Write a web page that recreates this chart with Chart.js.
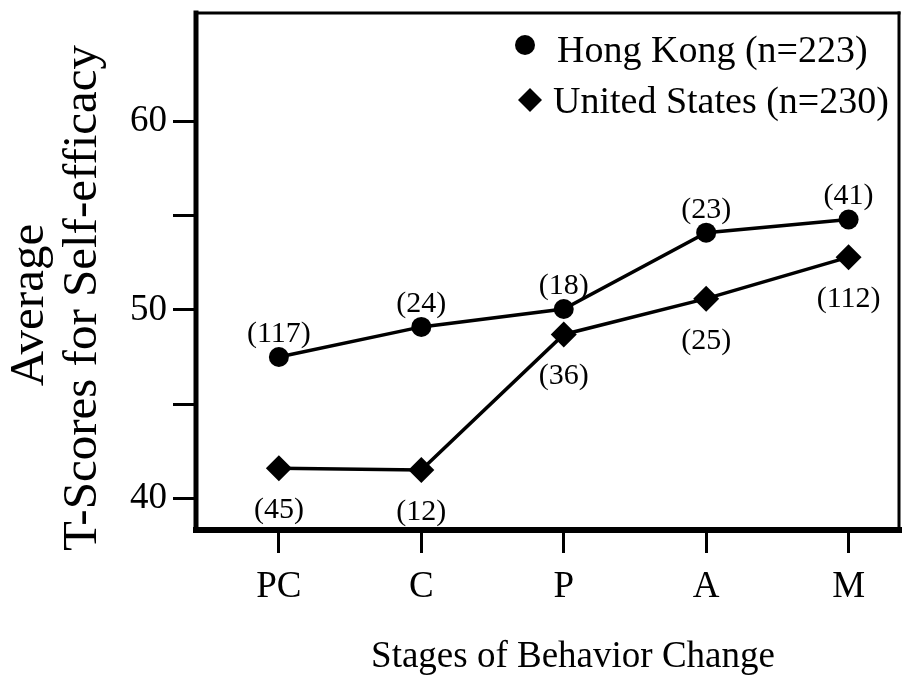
<!DOCTYPE html>
<html><head><meta charset="utf-8">
<script src="https://cdn.jsdelivr.net/npm/chart.js@4/dist/chart.umd.min.js"></script>
<style>html,body{margin:0;padding:0;background:#fff}#wrap{width:912px;height:683px}</style>
</head><body><div id="wrap"><canvas id="c" width="912" height="683"></canvas></div>
<script>
const stages = ['PC', 'C', 'P', 'A', 'M'];
const hongKong = [47.5, 49.1, 50.05, 54.1, 54.8];
const unitedStates = [41.6, 41.5, 48.7, 50.6, 52.8];
const hongKongN = ['(117)', '(24)', '(18)', '(23)', '(41)'];
const unitedStatesN = ['(45)', '(12)', '(36)', '(25)', '(112)'];
const yTickValues = [40, 45, 50, 55, 60];
const yTickLabels = ['40', '', '50', '', '60'];
const seriesNames = ['Hong Kong (n=223)', 'United States (n=230)'];
const xTitle = 'Stages of Behavior Change';
const yTitle = ['Average', 'T-Scores for Self-efficacy'];

const SERIF = '"Liberation Serif", "Times New Roman", serif';

const toPts = arr => arr.map((v, i) => ({ x: i, y: v }));

const framePlugin = {
  id: 'frame',
  afterDraw(chart) {
    const { ctx, chartArea: a } = chart;
    ctx.save();
    ctx.strokeStyle = '#000';
    ctx.lineCap = 'square';
    ctx.lineWidth = 5; ctx.beginPath(); ctx.moveTo(a.left, a.top); ctx.lineTo(a.left, a.bottom); ctx.stroke();
    ctx.lineWidth = 6; ctx.beginPath(); ctx.moveTo(a.left, a.bottom); ctx.lineTo(a.right, a.bottom); ctx.stroke();
    ctx.lineWidth = 3; ctx.beginPath(); ctx.moveTo(a.left, a.top); ctx.lineTo(a.right, a.top); ctx.stroke();
    ctx.lineWidth = 3; ctx.beginPath(); ctx.moveTo(a.right, a.top); ctx.lineTo(a.right, a.bottom); ctx.stroke();

    ctx.fillStyle = '#000';
    ctx.font = '37px ' + SERIF;
    ctx.textAlign = 'center';
    ctx.textBaseline = 'alphabetic';
    ctx.fillText(xTitle, 573, 667);
    ctx.font = '49px ' + SERIF;
    ctx.save(); ctx.translate(43, 305); ctx.rotate(-Math.PI / 2); ctx.fillText(yTitle[0], 0, 0); ctx.restore();
    ctx.save(); ctx.translate(96, 298); ctx.rotate(-Math.PI / 2); ctx.fillText(yTitle[1], 0, 0); ctx.restore();

    ctx.font = '38px ' + SERIF;
    ctx.textAlign = 'left';
    ctx.beginPath(); ctx.arc(525, 45, 10, 0, Math.PI * 2); ctx.fill();
    ctx.fillText(seriesNames[0], 557, 62);
    ctx.beginPath();
    ctx.moveTo(530, 88); ctx.lineTo(542, 100); ctx.lineTo(530, 112); ctx.lineTo(518, 100); ctx.closePath(); ctx.fill();
    ctx.fillText(seriesNames[1], 553, 113);
    ctx.restore();
  },
  afterDatasetsDraw(chart) {
    const { ctx } = chart;
    ctx.save();
    ctx.fillStyle = '#000';
    ctx.font = '30px ' + SERIF;
    ctx.textAlign = 'center';
    ctx.textBaseline = 'middle';
    const sets = [[0, hongKongN, -23], [1, unitedStatesN, 42]];
    sets.forEach(([di, labels, dy]) => {
      const meta = chart.getDatasetMeta(di);
      meta.data.forEach((pt, i) => ctx.fillText(labels[i], pt.x, pt.y + dy));
    });
    ctx.restore();
  }
};

const gridOpts = {
  drawOnChartArea: false, drawTicks: true, tickLength: 23, tickWidth: 3,
  tickColor: '#000', color: '#000'
};

new Chart(document.getElementById('c'), {
  type: 'line',
  data: {
    datasets: [
      {
        label: seriesNames[0], data: toPts(hongKong),
        borderColor: '#000', backgroundColor: '#000', borderWidth: 3.5,
        pointStyle: 'circle', pointRadius: 10, pointBackgroundColor: '#000', pointBorderWidth: 0,
        tension: 0, fill: false
      },
      {
        label: seriesNames[1], data: toPts(unitedStates),
        borderColor: '#000', backgroundColor: '#000', borderWidth: 3.5,
        pointStyle: 'rectRot', pointRadius: 13, pointBackgroundColor: '#000', pointBorderWidth: 0,
        tension: 0, fill: false
      }
    ]
  },
  options: {
    responsive: false, animation: false, devicePixelRatio: 1,
    layout: { padding: { top: 8, right: 4, left: 0, bottom: 0 } },
    plugins: { legend: { display: false }, tooltip: { enabled: false }, title: { display: false } },
    scales: {
      x: {
        type: 'linear', min: -0.582, max: 4.354,
        afterBuildTicks: s => { s.ticks = stages.map((_, i) => ({ value: i })); },
        afterFit: s => { s.height = 153; s.paddingLeft = 0; s.paddingRight = 0; },
        ticks: {
          callback: v => stages[v] ?? '', color: '#000', autoSkip: false, maxRotation: 0,
          font: { family: SERIF, size: 37 }, padding: 12
        },
        grid: gridOpts,
        border: { display: false }
      },
      y: {
        type: 'linear', min: 38.32, max: 65.76,
        afterBuildTicks: s => { s.ticks = yTickValues.map(v => ({ value: v })); },
        afterFit: s => { s.width = 196; s.paddingTop = 0; s.paddingBottom = 0; },
        ticks: {
          callback: (v, i) => yTickLabels[i], color: '#000',
          font: { family: SERIF, size: 37 }, padding: 6
        },
        grid: gridOpts,
        border: { display: false }
      }
    }
  },
  plugins: [framePlugin]
});
</script>
</body></html>
